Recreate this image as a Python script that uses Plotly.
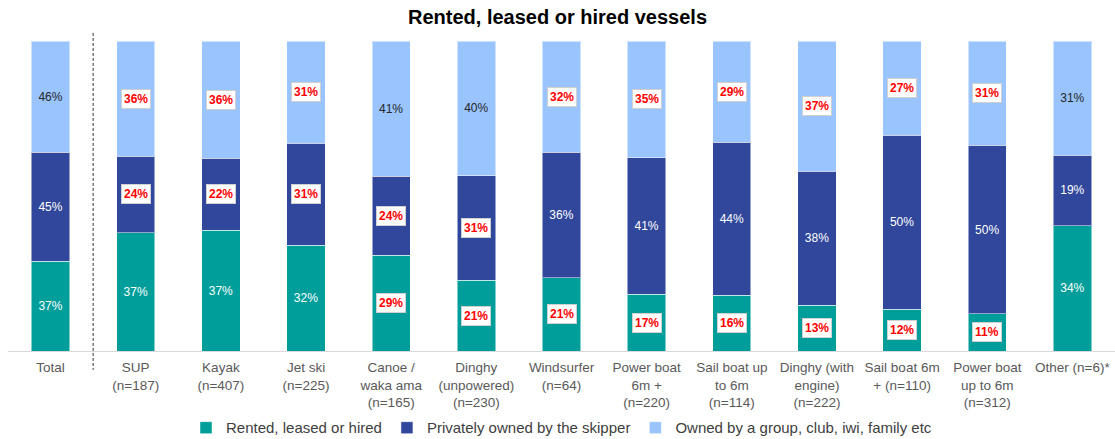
import plotly.graph_objects as go

categories = ["Total", "SUP<br>(n=187)", "Kayak<br>(n=407)", "Jet ski<br>(n=225)",
              "Canoe /<br>waka ama<br>(n=165)", "Dinghy<br>(unpowered)<br>(n=230)",
              "Windsurfer<br>(n=64)", "Power boat<br>6m +<br>(n=220)",
              "Sail boat up<br>to 6m<br>(n=114)", "Dinghy (with<br>engine)<br>(n=222)",
              "Sail boat 6m<br>+ (n=110)", "Power boat<br>up to 6m<br>(n=312)",
              "Other (n=6)*"]

rented = [37, 37, 37, 32, 29, 21, 21, 17, 16, 13, 12, 11, 34]
private = [45, 24, 22, 31, 24, 31, 36, 41, 44, 38, 50, 50, 19]
group = [46, 36, 36, 31, 41, 40, 32, 35, 29, 37, 27, 31, 31]

# significance flags (red boxed labels)
rented_sig = [0, 0, 0, 0, 1, 1, 1, 1, 1, 1, 1, 1, 0]
private_sig = [0, 1, 1, 1, 1, 1, 0, 0, 0, 0, 0, 0, 0]
group_sig = [0, 1, 1, 1, 0, 0, 1, 1, 1, 1, 1, 1, 0]

series = [
    ("Rented, leased or hired", rented, rented_sig, "#009E9B", "white"),
    ("Privately owned by the skipper", private, private_sig, "#30479B", "white"),
    ("Owned by a group, club, iwi, family etc", group, group_sig, "#99C4FE", "#262626"),
]

FONT = "Arial, Liberation Sans, sans-serif"

fig = go.Figure()
for name, vals, sig, color, tcol in series:
    txt = ["" if s else f"{v}%" for v, s in zip(vals, sig)]
    fig.add_trace(go.Bar(
        x=categories, y=vals, name=name,
        marker=dict(color=color, line=dict(color="rgba(255,255,255,0.5)", width=1)),
        text=txt, texttemplate="%{text}", textposition="inside",
        insidetextanchor="middle", textangle=0, constraintext="none",
        textfont=dict(family=FONT, size=12, color=tcol),
    ))

# red boxed labels computed from the data
annotations = []
for i, cat in enumerate(categories):
    tot = rented[i] + private[i] + group[i]
    base = 0.0
    for name, vals, sig, color, tcol in series:
        share = vals[i] / tot * 100
        if sig[i]:
            annotations.append(dict(
                x=cat, y=base + share / 2, xref="x", yref="y",
                text=f"<b>{vals[i]}%</b>", showarrow=False,
                font=dict(family=FONT, size=12, color="#FF0000"),
                bgcolor="white", bordercolor="#D0D0D0", borderwidth=1, borderpad=2,
            ))
        base += share

fig.update_layout(
    barmode="stack", barnorm="percent", bargap=0.55,
    width=1115, height=439,
    margin=dict(l=8, r=0, t=41, b=88, autoexpand=False),
    paper_bgcolor="white", plot_bgcolor="white",
    title=dict(text="<b>Rented, leased or hired vessels</b>", x=0.5, xanchor="center",
               y=1 - 17 / 439, yanchor="middle", yref="container",
               font=dict(family=FONT, size=20, color="black")),
    font=dict(family=FONT, size=13.5, color="#595959"),
    xaxis=dict(showline=True, linecolor="#D9D9D9", linewidth=1, ticks="",
               tickfont=dict(size=13.5, color="#595959"), showgrid=False,
               ticklabelstandoff=4, automargin=False),
    yaxis=dict(visible=False, range=[0, 100], automargin=False),
    legend=dict(orientation="h", x=0.5, xanchor="center", y=-0.248, yanchor="middle",
                font=dict(size=15, color="#404040"), traceorder="normal",
                itemwidth=30),
    annotations=annotations,
    shapes=[dict(type="line", xref="x", yref="paper", x0=0.5, x1=0.5,
                 y0=1.026, y1=-0.061, line=dict(color="#333333", width=1, dash="3px,2px"))],
    showlegend=True,
)

fig.write_html("out.html", config={"displayModeBar": False})

# remove the default page margin so the figure sits at the window origin
with open("out.html", "r", encoding="utf-8") as f:
    html = f.read()
html = html.replace("<head>", "<head><style>body{margin:0;padding:0;overflow:hidden;}</style>", 1)
with open("out.html", "w", encoding="utf-8") as f:
    f.write(html)
